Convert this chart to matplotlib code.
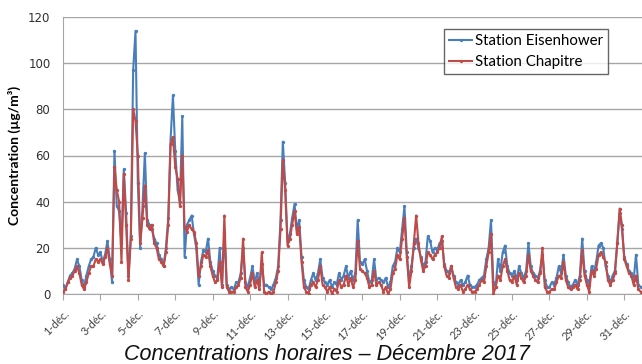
import numpy as np
import matplotlib
matplotlib.use("Agg")
import matplotlib.pyplot as plt

# concentrations, one value every 3 hours (8 per day), December 2017
eisenhower = [
    4, 2, 5, 8, 9, 11, 15, 12,
    6, 3, 8, 12, 15, 16, 20, 17,
    18, 14, 17, 23, 15, 5, 62, 38,
    36, 22, 54, 35, 8, 25, 97, 114,
    48, 20, 38, 61, 32, 30, 28, 24,
    22, 17, 15, 12, 20, 33, 67, 86,
    62, 45, 40, 77, 16, 30, 32, 34,
    26, 20, 4, 14, 19, 18, 24, 14,
    10, 8, 7, 20, 4, 27, 4, 2,
    3, 2, 5, 5, 9, 20, 5, 3,
    7, 12, 5, 9, 4, 13, 4, 4,
    3, 2, 4, 7, 12, 32, 66, 48,
    23, 26, 33, 39, 28, 32, 16, 6,
    3, 2, 6, 9, 6, 9, 15, 7,
    5, 4, 6, 3, 5, 4, 9, 6,
    8, 12, 7, 10, 6, 9, 32, 14,
    13, 15, 10, 5, 6, 15, 6, 7,
    6, 5, 7, 3, 5, 12, 14, 20,
    18, 28, 38, 18, 6, 12, 20, 24,
    20, 16, 12, 14, 25, 23, 18, 20,
    19, 22, 23, 13, 10, 9, 12, 8,
    5, 4, 6, 4, 5, 8, 4, 3,
    3, 4, 6, 7, 8, 15, 20, 32,
    5, 3, 15, 10, 18, 21, 12, 9,
    8, 10, 6, 12, 9, 7, 10, 22,
    12, 9, 8, 7, 10, 17, 6, 3,
    3, 5, 4, 7, 12, 9, 17, 8,
    5, 3, 4, 6, 4, 8, 24, 10,
    6, 4, 12, 9, 14, 21, 22, 20,
    12, 8, 5, 8, 10, 22, 35, 28,
    16, 13, 10, 9, 6, 17, 4, 3,
]

chapitre = [
    1, 2, 5, 7, 8, 10, 12, 9,
    4, 2, 5, 9, 12, 12, 15, 14,
    15, 13, 16, 20, 13, 8, 55, 45,
    40, 14, 52, 30, 6, 24, 80, 75,
    60, 22, 33, 47, 30, 28, 30, 22,
    20, 15, 14, 12, 18, 30, 65, 68,
    55, 50, 38, 60, 29, 27, 30, 28,
    27, 22, 8, 12, 17, 16, 19, 12,
    8, 5, 6, 14, 3, 34, 3, 1,
    1, 1, 3, 4, 7, 24, 3, 1,
    4, 9, 3, 6, 2, 18, 1, 0,
    1, 0, 1, 5, 10, 28, 58, 45,
    21, 24, 30, 36, 26, 29, 14, 3,
    1, 0, 4, 5, 3, 6, 12, 4,
    3, 1, 3, 0, 2, 1, 6, 3,
    4, 8, 4, 7, 3, 6, 23, 11,
    10, 9, 7, 3, 4, 10, 4, 5,
    4, 1, 3, 0, 2, 9, 11, 17,
    15, 24, 33, 16, 3, 10, 22, 34,
    22, 15, 10, 12, 18, 17, 15, 17,
    18, 20, 25, 12, 8, 7, 12, 7,
    3, 2, 4, 1, 2, 4, 2, 1,
    1, 2, 4, 6, 5, 12, 18, 26,
    0, 3, 8, 6, 12, 15, 10, 6,
    5, 8, 4, 9, 7, 5, 8, 17,
    10, 8, 6, 5, 9, 20, 3, 1,
    1, 2, 2, 5, 8, 7, 14, 6,
    3, 2, 3, 4, 2, 6, 19, 8,
    4, 1, 10, 8, 11, 17, 18, 16,
    14, 6, 4, 6, 9, 22, 37, 30,
    15, 12, 9, 8, 4, 8, 2, 1,
]

day_labels = ["%d-déc." % d for d in range(1, 32, 2)]
y_ticks = [0, 20, 40, 60, 80, 100, 120]

blue = "#4a7ebb"
red = "#be4b48"

t = np.arange(len(eisenhower)) * 3 / 24.0

fig = plt.figure(figsize=(6.42, 3.64), dpi=100)
ax = fig.add_axes([63 / 642, 70 / 364, 580 / 642, 277 / 364])

ax.plot(t, eisenhower, color=blue, lw=1.5, marker="o", ms=2.4, mew=0,
        label="Station Eisenhower", zorder=3)
ax.plot(t, chapitre, color=red, lw=1.5, marker="o", ms=2.4, mew=0,
        label="Station Chapitre", zorder=4)

ax.set_xlim(0, 31)
ax.set_ylim(0, 120)
ax.set_yticks(y_ticks)
ax.set_xticks(np.arange(0, 31, 2))
ax.set_xticklabels(day_labels, rotation=45, ha="right", rotation_mode="anchor",
                   fontsize=8, color="#404040", family="Lato")
for lab in ax.get_yticklabels():
    lab.set_fontsize(8.5)
    lab.set_color("#303030")
    lab.set_family("DejaVu Sans")

ax.grid(axis="y", color="#a6a6a6", lw=1.0)
ax.set_axisbelow(True)
for s in ["top", "right"]:
    ax.spines[s].set_visible(False)
ax.spines["left"].set_color("#a6a6a6")
ax.spines["bottom"].set_color("#a6a6a6")
ax.tick_params(axis="x", direction="out", length=4, color="#a6a6a6", pad=6)
ax.tick_params(axis="y", length=0, pad=9)

ax.set_ylabel("Concentration (µg/m³)", fontsize=10, fontweight="bold",
              family="Lato", labelpad=5)

leg = ax.legend(loc="upper left", bbox_to_anchor=(444 / 642, 1 - 29 / 364),
                bbox_transform=fig.transFigure, frameon=True, fancybox=False,
                borderaxespad=0, handlelength=1.5, handletextpad=0.2,
                borderpad=0.35, labelspacing=0.45,
                prop={"family": "Lato", "size": 10.8})
leg.get_frame().set_edgecolor("#404040")
leg.get_frame().set_linewidth(1.0)

fig.text(327 / 642, 1 - 354 / 364, "Concentrations horaires – Décembre 2017",
         ha="center", va="center", fontsize=15.5, style="italic",
         family="Liberation Sans", color="#111111")

fig.savefig("out.png", dpi=100)
